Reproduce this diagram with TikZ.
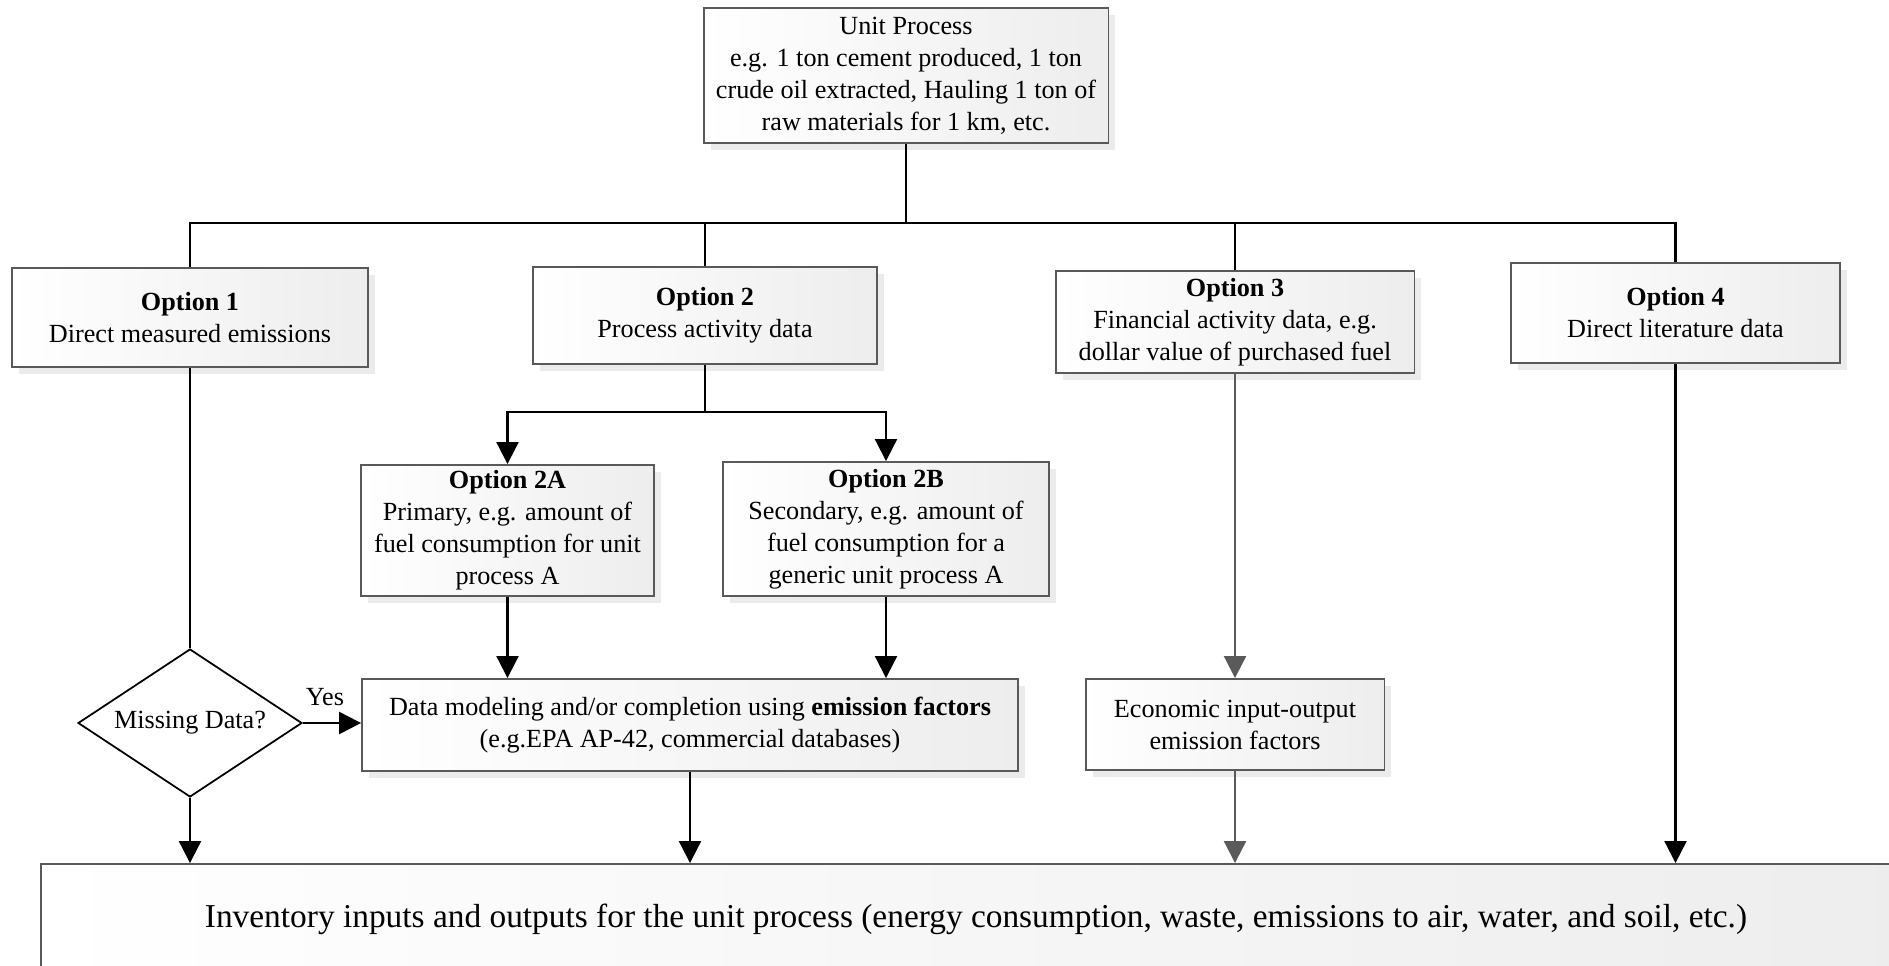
\documentclass[tikz,border=0pt]{standalone}
\usepackage{fontspec}
\setmainfont{Liberation Serif}
\usetikzlibrary{arrows.meta,shapes.geometric,shadows}
\definecolor{boxline}{HTML}{595959}
\definecolor{grayline}{HTML}{5A5A5A}
\begin{document}
\begin{tikzpicture}[x=0.02cm, y=-0.02cm, font=\fontsize{14.9}{18.2}\selectfont, line join=miter,
  box/.style={draw=boxline, line width=1.1pt, left color=white, right color=black!7, align=center, inner sep=0pt,
    drop shadow={shadow xshift=0.14cm, shadow yshift=-0.14cm, opacity=0.08, fill=black}},
  con/.style={line width=1.2pt},
  arr/.style={con, -{Triangle[length=0.44cm,width=0.44cm]}},
  garr/.style={arr, draw=grayline, fill=grayline}]
 \useasboundingbox (0,0) rectangle (1889,966);
 \clip (0,0) rectangle (1889,966);
 \node[box, minimum width=8.1cm, minimum height=2.7cm] (unit) at (906,75.5)
   {Unit Process\\e.g. 1 ton cement produced, 1 ton\\crude oil extracted, Hauling 1 ton of\\raw materials for 1 km, etc.};
 \node[box, minimum width=7.12cm, minimum height=1.98cm] (opt1) at (190,317.5) {\textbf{Option 1}\\Direct measured emissions};
 \node[box, minimum width=6.88cm, minimum height=1.94cm] (opt2) at (705,315.5) {\textbf{Option 2}\\Process activity data};
 \node[box, minimum width=7.18cm, minimum height=2.04cm] (opt3) at (1235,322)
   {\textbf{Option 3}\\Financial activity data, e.g.\\dollar value of purchased fuel};
 \node[box, minimum width=6.58cm, minimum height=2cm] (opt4) at (1675.5,313) {\textbf{Option 4}\\Direct literature data};
 \node[box, minimum width=5.86cm, minimum height=2.62cm] (opt2a) at (507.5,530.5)
   {\textbf{Option 2A}\\Primary, e.g. amount of\\fuel consumption for unit\\process A};
 \node[box, minimum width=6.52cm, minimum height=2.68cm] (opt2b) at (886,529)
   {\textbf{Option 2B}\\Secondary, e.g. amount of\\fuel consumption for a\\generic unit process A};
 \node[box, minimum width=13.12cm, minimum height=1.84cm] (datamod) at (690,725)
   {Data modeling and/or completion using \textbf{emission factors}\\(e.g.EPA AP-42, commercial databases)};
 \node[box, minimum width=5.98cm, minimum height=1.82cm] (econ) at (1235,724.5) {Economic input-output\\emission factors};
 \node[draw, diamond, aspect=1.51, minimum width=4.48cm, minimum height=2.96cm, inner sep=0pt, line width=1pt] (miss) at (190,723) {Missing Data?};
 \node[box, minimum width=37.4cm, minimum height=2.2cm, font=\fontsize{19}{23}\selectfont] (inv) at (976,919)
   {Inventory inputs and outputs for the unit process (energy consumption, waste, emissions to air, water, and soil, etc.)};
 \coordinate (bus) at (906,223);
 \coordinate (split2) at (705,412);
 \draw[con] (unit.south) -- (bus);
 \draw[con] (opt1.north) |- (bus) -| (opt4.north);
 \foreach \o in {opt2,opt3} \draw[con] (bus) -| (\o.north);
 \draw[con] (opt2.south) -- (split2);
 \foreach \o in {opt2a,opt2b} {
   \draw[arr] (split2) -| (\o.north);
   \draw[arr] (\o.south) -- (\o.south |- datamod.north);
 }
 \draw[con] (opt1.south) -- (miss.north);
 \draw[arr] (miss.east) -- (miss.east -| datamod.west) node[pos=0.38, above=6pt] {Yes};
 \foreach \o in {miss,datamod,opt4} \draw[arr] (\o.south) -- (\o.south |- inv.north);
 \draw[garr] (opt3.south) -- (econ.north);
 \draw[garr] (econ.south) -- (econ.south |- inv.north);
\end{tikzpicture}
\end{document}
